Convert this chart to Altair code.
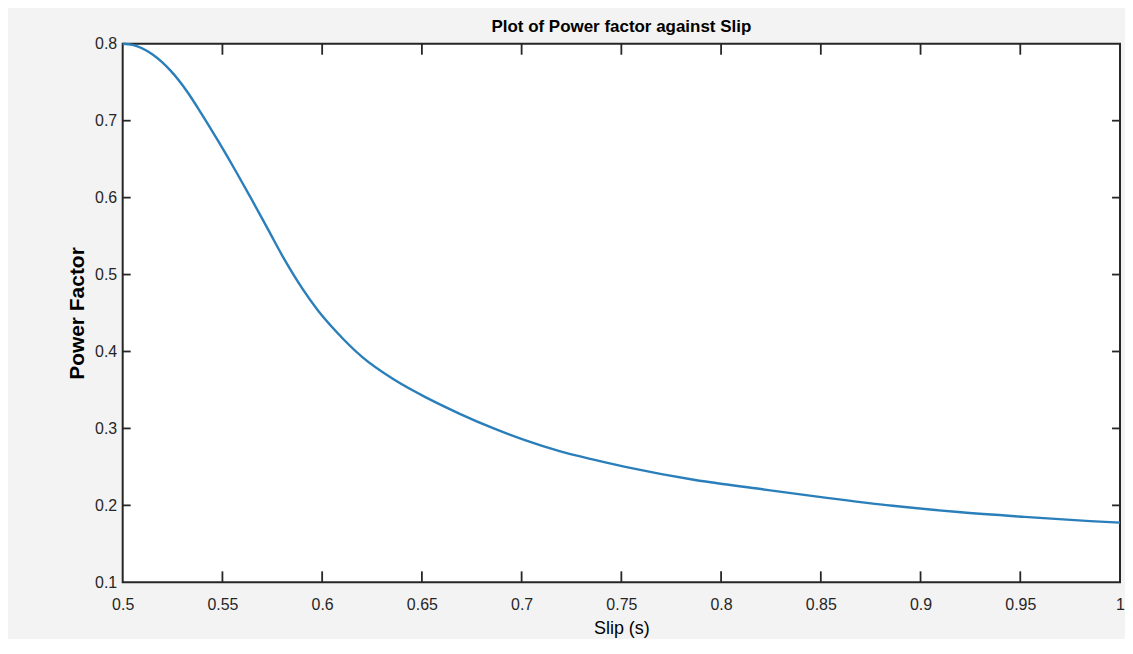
import altair as alt
import pandas as pd

# Data
slip = [0.500, 0.505, 0.515, 0.524, 0.532, 0.540, 0.548, 0.557, 0.565, 0.573,
        0.581, 0.590, 0.598, 0.607, 0.620, 0.636, 0.653, 0.669, 0.686,
        0.702, 0.719, 0.735, 0.752, 0.787, 0.820, 0.853, 0.886, 0.919, 0.952,
        0.985, 1.000]
power_factor = [0.800, 0.7985, 0.786, 0.765, 0.739, 0.707, 0.673, 0.633, 0.596, 0.558,
                0.520, 0.482, 0.453, 0.426, 0.393, 0.3635, 0.339, 0.319, 0.300,
                0.2845, 0.2705, 0.2600, 0.2500, 0.2330, 0.2212, 0.2098, 0.1995, 0.1913, 0.1850,
                0.1795, 0.1775]

x_ticks = [0.5, 0.55, 0.6, 0.65, 0.7, 0.75, 0.8, 0.85, 0.9, 0.95, 1.0]
y_ticks = [0.1, 0.2, 0.3, 0.4, 0.5, 0.6, 0.7, 0.8]

W, H = 1000, 540
FRAME = "#262626"

df = pd.DataFrame({"slip": slip, "pf": power_factor})
xt = pd.DataFrame({"t": x_ticks[1:-1]})
yt = pd.DataFrame({"t": y_ticks[1:-1]})

xscale = alt.Scale(domain=[0.5, 1.0], nice=False, zero=False)
yscale = alt.Scale(domain=[0.1, 0.8], nice=False, zero=False)

line = alt.Chart(df).mark_line(color="#2a7fba", strokeWidth=2.4, interpolate="monotone").encode(
    x=alt.X("slip:Q", scale=xscale,
            axis=alt.Axis(values=x_ticks, format="~g", title="Slip (s)", tickSize=0,
                          domain=False, grid=False, labelPadding=14, labelFlush=False,
                          labelFontSize=16, labelFont="Liberation Sans", labelColor="#262626",
                          titleFontSize=18, titleFontWeight="normal", titleFont="Liberation Sans",
                          titleColor="#000000", titlePadding=7)),
    y=alt.Y("pf:Q", scale=yscale,
            axis=alt.Axis(values=y_ticks, format="~g", title="Power Factor", tickSize=0,
                          domain=False, grid=False, labelPadding=6, labelFlush=False,
                          labelFontSize=16, labelFont="Liberation Sans", labelColor="#262626",
                          titleFontSize=21, titleFontWeight="bold", titleFont="Liberation Sans",
                          titleColor="#000000", titlePadding=7)),
)

tick_len_x = 11
tick_len_y = 8

xt_bottom = alt.Chart(xt).mark_rule(color=FRAME, strokeWidth=1.8).encode(
    x=alt.X("t:Q", scale=xscale), y=alt.value(H), y2=alt.value(H - tick_len_x))
xt_top = alt.Chart(xt).mark_rule(color=FRAME, strokeWidth=1.8).encode(
    x=alt.X("t:Q", scale=xscale), y=alt.value(0), y2=alt.value(tick_len_x))
yt_left = alt.Chart(yt).mark_rule(color=FRAME, strokeWidth=1.8).encode(
    y=alt.Y("t:Q", scale=yscale), x=alt.value(0), x2=alt.value(tick_len_y))
yt_right = alt.Chart(yt).mark_rule(color=FRAME, strokeWidth=1.8).encode(
    y=alt.Y("t:Q", scale=yscale), x=alt.value(W), x2=alt.value(W - tick_len_y))

chart = alt.layer(line, xt_bottom, xt_top, yt_left, yt_right).properties(
    width=W, height=H,
    title=alt.TitleParams("Plot of Power factor against Slip", fontSize=17, fontWeight="bold",
                          font="Liberation Sans", color="#000000", offset=0, anchor="middle"),
    padding={"left": 58, "top": 9, "right": 0, "bottom": 1},
    background="#f3f3f3",
).configure_view(stroke=FRAME, strokeWidth=2, fill="#ffffff")

chart.save("out.html", embed_options={"renderer": "svg", "actions": False})
